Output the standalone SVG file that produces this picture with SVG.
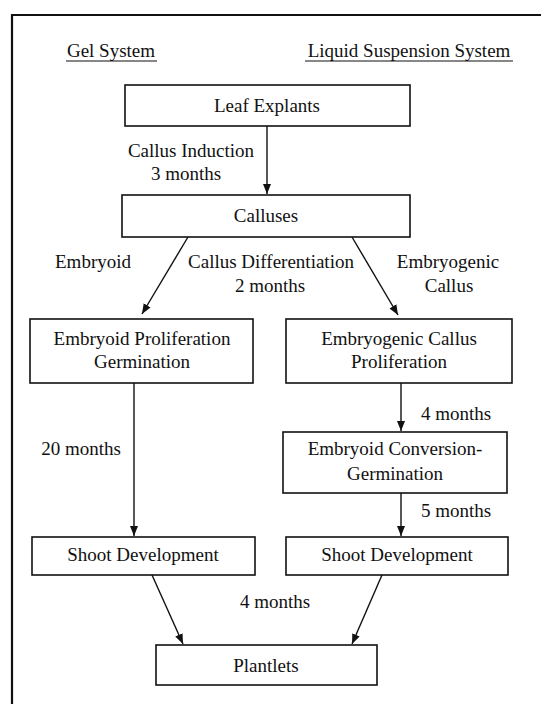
<svg xmlns="http://www.w3.org/2000/svg" width="541" height="704" viewBox="0 0 541 704">
<style>
text{font-family:"Liberation Serif","Times New Roman",serif;font-size:19px;fill:#111;text-anchor:middle}
.box rect{fill:#fff;stroke:#111;stroke-width:1.6}
.conn line{stroke:#111;stroke-width:1.4;marker-end:url(#ah)}
.u{stroke:#111;stroke-width:1.2}
</style>
<defs>
<marker id="ah" viewBox="0 0 10 10" refX="10" refY="5" markerWidth="10" markerHeight="10" markerUnits="userSpaceOnUse" orient="auto">
<path d="M0,1 L10,5 L0,9 Z" fill="#111"/>
</marker>
</defs>
<rect width="541" height="704" fill="#fff"/>
<path d="M12,704 V15 H541" fill="none" stroke="#111" stroke-width="2.2"/>
<g id="headers">
<text x="111" y="57">Gel System</text>
<line class="u" x1="66" y1="61" x2="157" y2="61"/>
<text x="409" y="57">Liquid Suspension System</text>
<line class="u" x1="305" y1="61" x2="513" y2="61"/>
</g>
<g id="leaf" class="box"><rect x="125" y="85" width="285" height="41"/><text x="267" y="112">Leaf Explants</text></g>
<g id="calluses" class="box"><rect x="122" y="195" width="288" height="42"/><text x="266" y="222">Calluses</text></g>
<g id="embprolif" class="box"><rect x="30" y="319" width="223" height="64"/><text x="142" y="345">Embryoid Proliferation</text><text x="142" y="368">Germination</text></g>
<g id="ecprolif" class="box"><rect x="286" y="319" width="226" height="64"/><text x="399" y="345">Embryogenic Callus</text><text x="399" y="368">Proliferation</text></g>
<g id="conversion" class="box"><rect x="283" y="432" width="224" height="61"/><text x="395" y="455">Embryoid Conversion-</text><text x="395" y="480">Germination</text></g>
<g id="shootL" class="box"><rect x="32" y="537" width="223" height="38"/><text x="143" y="561">Shoot Development</text></g>
<g id="shootR" class="box"><rect x="286" y="537" width="222" height="38"/><text x="397" y="561">Shoot Development</text></g>
<g id="plantlets" class="box"><rect x="156" y="645" width="221" height="40"/><text x="266" y="672">Plantlets</text></g>
<g id="connectors" class="conn">
<line x1="267" y1="126" x2="267" y2="194"/>
<line x1="188" y1="237" x2="142" y2="314"/>
<line x1="352" y1="237" x2="398" y2="315"/>
<line x1="134" y1="383" x2="134" y2="536"/>
<line x1="401" y1="383" x2="401" y2="431"/>
<line x1="401" y1="493" x2="401" y2="536"/>
<line x1="152" y1="575" x2="183" y2="644"/>
<line x1="382" y1="575" x2="352" y2="644"/>
</g>
<g id="labels">
<text x="191" y="157">Callus Induction</text>
<text x="186" y="180">3 months</text>
<text x="93" y="268">Embryoid</text>
<text x="271" y="268">Callus Differentiation</text>
<text x="270" y="292">2 months</text>
<text x="448" y="268">Embryogenic</text>
<text x="449" y="292">Callus</text>
<text x="81" y="455">20 months</text>
<text x="456" y="420">4 months</text>
<text x="456" y="517">5 months</text>
<text x="275" y="608">4 months</text>
</g>
</svg>
